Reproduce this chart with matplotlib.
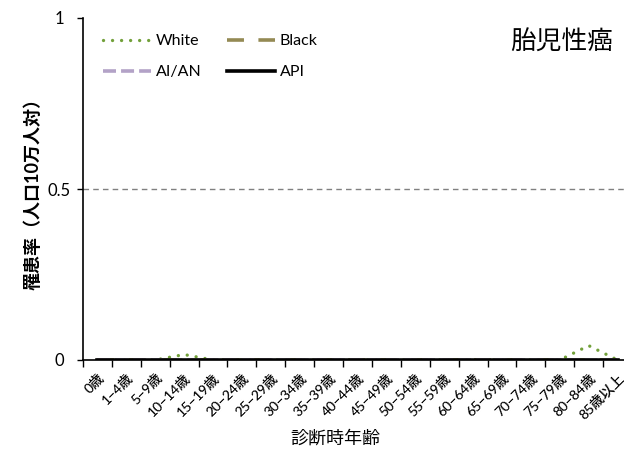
import matplotlib
matplotlib.use("Agg")
import matplotlib.pyplot as plt
import numpy as np

plt.rcParams['font.family'] = ['Lato', 'Noto Sans CJK JP', 'DejaVu Sans']

age_labels = ['0歳', '1−4歳', '5−9歳', '10−14歳', '15−19歳', '20−24歳', '25−29歳',
              '30−34歳', '35−39歳', '40−44歳', '45−49歳', '50−54歳', '55−59歳',
              '60−64歳', '65−69歳', '70−74歳', '75−79歳', '80−84歳', '85歳以上']

white = [0, 0, 0, 0.016, 0, 0, 0, 0, 0, 0, 0, 0, 0, 0, 0, 0, 0, 0.042, 0]
black = [0] * 19
aian = [0] * 19
api = [0] * 19

x = np.arange(len(age_labels))

fig = plt.figure(figsize=(6.24, 4.5), dpi=100)
ax = fig.add_axes([83 / 624, 0.2, (632 - 83) / 624, 0.76])

ax.plot(x, white, color='#72A03A', lw=2.4, linestyle=(0, (0.01, 2.7)),
        dash_capstyle='round', label='White')
ax.plot(x, black, color='#948A54', lw=2.6, linestyle=(0, (4.7, 4.0)), label='Black')
ax.plot(x, aian, color='#B3A2C7', lw=2.6, linestyle=(0, (3.6, 1.4)), label='AI/AN')
ax.plot(x, api, color='black', lw=2.6, label='API')

ax.axhline(0.5, color='#808080', lw=1, linestyle=(0, (4, 3)))

ax.set_xlim(-0.5, len(age_labels) - 0.5)
ax.set_ylim(0, 1)
ax.set_yticks([0, 0.5, 1])
ax.set_yticklabels(['0', '0.5', '1'], fontsize=12, ha='center')
ax.tick_params(axis='y', length=4, width=1, pad=13)

ax.set_xticks(x)
ax.set_xticklabels(age_labels, rotation=45, ha='right', rotation_mode='anchor',
                   fontsize=10, fontweight='medium')
ax.set_xticks(np.arange(-0.5, len(age_labels), 1), minor=True)
ax.tick_params(axis='x', which='major', length=0, pad=8)
ax.tick_params(axis='x', which='minor', length=5, width=1)

for s in ['top', 'right']:
    ax.spines[s].set_visible(False)
ax.spines['left'].set_linewidth(1.2)
ax.spines['bottom'].set_linewidth(1.2)

ax.set_ylabel('罹患率（人口10万人対）', fontsize=13, fontweight='bold')
ax.yaxis.set_label_coords(-0.075, 0.5)
ax.set_xlabel('診断時年齢', fontsize=13)
ax.xaxis.set_label_coords(0.46, -0.205)

h, l = ax.get_legend_handles_labels()
order = [0, 2, 1, 3]
ax.legend([h[i] for i in order], [l[i] for i in order], ncol=2, frameon=False,
          loc='upper left', bbox_to_anchor=(0.01, 0.995), fontsize=11.5,
          handlelength=3.0, handletextpad=0.3, columnspacing=1.6, labelspacing=1.05)

ax.text(0.965, 0.93, '胎児性癌', transform=ax.transAxes, fontsize=18.5,
        ha='right', va='center')

fig.savefig('out.png', dpi=100)
